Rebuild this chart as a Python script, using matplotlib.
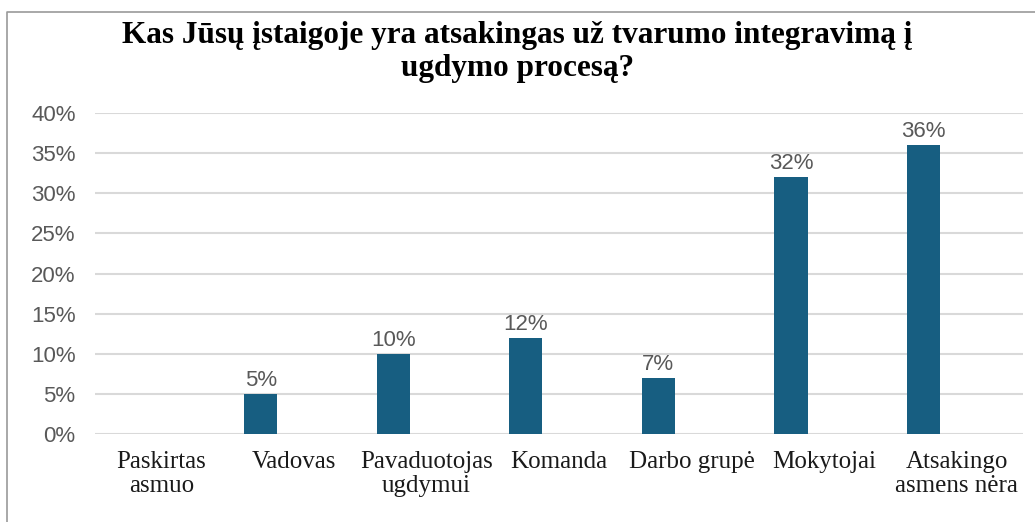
import numpy as np
import matplotlib.pyplot as plt
from matplotlib.lines import Line2D

categories = ["Paskirtas\nasmuo", "Vadovas", "Pavaduotojas\nugdymui", "Komanda",
              "Darbo grupė", "Mokytojai", "Atsakingo\nasmens nėra"]
values = [0, 5, 10, 12, 7, 32, 36]
yticks = [0, 5, 10, 15, 20, 25, 30, 35, 40]

W, H = 1035, 522
fig = plt.figure(figsize=(W / 100, H / 100), dpi=100)
ax = fig.add_axes([95 / W, 1 - 434 / H, (1023 - 95) / W, (434 - 113) / H])

x = np.arange(len(categories))
# bars sit left of the category centre, as in the original
bars = ax.bar(x - 0.25, values, width=0.25, color="#175e81", zorder=3)
for b, v in zip(bars, values):
    if v > 0:
        ax.text(b.get_x() + b.get_width() / 2, v + 0.35, f"{v}%", ha="center", va="bottom",
                fontsize=16, color="#595959", family="Liberation Sans")

ax.set_xlim(-0.5, len(categories) - 0.5)
ax.set_ylim(0, 40)
ax.set_yticks(yticks)
ax.set_yticklabels([f"{t}%" for t in yticks], fontsize=16, color="#595959", family="Liberation Sans")
ax.set_xticks(x)
ax.set_xticklabels(categories, fontsize=18, color="#1a1a1a", family="Liberation Serif", linespacing=1.15)
ax.tick_params(length=0, axis="y", pad=14)
ax.tick_params(length=0, axis="x", pad=12)
ax.yaxis.grid(True, color="#d9d9d9", linewidth=1.5, zorder=0)
for s in ax.spines.values():
    s.set_visible(False)

fig.text(0.5, 1 - 52 / H, "Kas Jūsų įstaigoje yra atsakingas už tvarumo integravimą į\nugdymo procesą?",
         ha="center", va="center", fontsize=22.5, fontweight="bold", family="Liberation Serif",
         linespacing=1.2)

fig.add_artist(Line2D([7 / W, 7 / W, 1], [0, 1 - 12 / H, 1 - 12 / H], transform=fig.transFigure,
                      color="#9a9a9a", linewidth=1.2))

fig.savefig("out.png", dpi=100)
